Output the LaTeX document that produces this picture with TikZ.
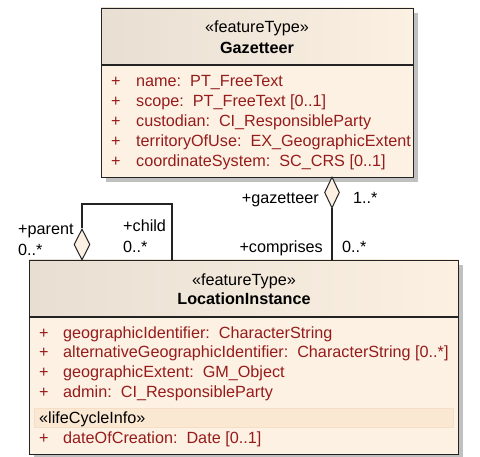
\documentclass[tikz,border=0pt]{standalone}
\usepackage{fontspec}
\setmainfont{Liberation Sans}
\usetikzlibrary{shapes.geometric,calc}
\definecolor{attr}{RGB}{150,28,28}
\definecolor{hdl}{RGB}{232,223,210}
\definecolor{hdr}{RGB}{251,240,226}
\definecolor{bodyc}{RGB}{252,241,227}
\definecolor{shad}{RGB}{192,192,192}
\definecolor{band}{RGB}{250,232,211}
\definecolor{bandline}{RGB}{245,222,197}
\definecolor{edge}{RGB}{35,35,35}
\begin{document}
\begin{tikzpicture}[x=1pt,y=-1pt,
  txt/.style={font=\fontsize{16.2}{18}\selectfont, inner sep=0pt, anchor=base west},
  atxt/.style={txt, text=attr},
  boxline/.style={draw=edge, line width=1.4pt, inner sep=0pt, anchor=north west},
  sepline/.style={draw=edge, line width=1.1pt},
  conn/.style={draw=edge, line width=1.1pt},
  diam/.style={diamond, draw=edge, fill=hdr, line width=1pt, minimum width=15pt, minimum height=31pt, inner sep=0pt}]
\useasboundingbox (0,0) rectangle (480,457);

% ---------- Gazetteer ----------
\fill[shad] (106,13) rectangle (418,182);
\shade[left color=hdl, right color=hdr] (101,8) rectangle (413,65);
\fill[bodyc] (101,65) rectangle (413,177);
\node[boxline, minimum width=312pt, minimum height=169pt] (gaz) at (101,8) {};
\draw[sepline] (gaz.west |- 0,65) -- (gaz.east |- 0,65);
\node[txt, anchor=base] (gazst) at (257,33) {«featureType»};
\node[txt, anchor=base, font=\fontsize{16.2}{18}\selectfont\bfseries] (gazname) at (257,54) {Gazetteer};
\foreach \yy/\tt [count=\i] in {87/{name:\ \ PT\_FreeText},
  107/{scope:\ \ PT\_FreeText [0..1]},
  127/{custodian:\ \ CI\_ResponsibleParty},
  147/{territoryOfUse:\ \ EX\_GeographicExtent},
  167/{coordinateSystem:\ \ SC\_CRS [0..1]}}{
  \node[atxt] (gp\i) at (111,\yy) {+};
  \node[atxt] (ga\i) at (136,\yy) {\tt};
}

% ---------- LocationInstance ----------
\fill[shad] (34,265) rectangle (463,459);
\shade[left color=hdl, right color=hdr] (29,260) rectangle (458,317);
\fill[bodyc] (29,317) rectangle (458,454);
\draw[bandline, fill=band] (34,408) rectangle (453,427);
\node[boxline, minimum width=429pt, minimum height=194pt] (li) at (29,260) {};
\draw[sepline] (li.west |- 0,317) -- (li.east |- 0,317);
\node[txt, anchor=base] (list) at (244,286) {«featureType»};
\node[txt, anchor=base, font=\fontsize{16.2}{18}\selectfont\bfseries] (liname) at (244,305) {LocationInstance};
\foreach \yy/\tt [count=\i] in {339/{geographicIdentifier:\ \ CharacterString},
  358/{alternativeGeographicIdentifier:\ \ CharacterString [0..*]},
  378/{geographicExtent:\ \ GM\_Object},
  398/{admin:\ \ CI\_ResponsibleParty}}{
  \node[atxt] (lp\i) at (39,\yy) {+};
  \node[atxt] (la\i) at (63,\yy) {\tt};
}
\node[txt] (lcinfo) at (39,424) {«lifeCycleInfo»};
\node[atxt] (lp5) at (39,443) {+};
\node[atxt] (la5) at (63,443) {dateOfCreation:\ \ Date [0..1]};

% ---------- Gazetteer -- LocationInstance ----------
\node[diam] (dg) at (332,192.5) {};
\draw[conn] (dg.south) -- (dg.south |- li.north);
\node[txt, anchor=base east] (lgaz) at (319,204) {+gazetteer};
\node[txt] (mgaz) at (353,204) {1..*};
\node[txt, anchor=base east] (lcomp) at (323,253) {+comprises};
\node[txt] (mcomp) at (342,253) {0..*};

% ---------- self association ----------
\node[diam, minimum width=16pt, minimum height=31pt] (ds) at (82,244.5) {};
\coordinate (selfr) at (172,204);
\draw[conn] (ds.north) |- (selfr) -- (selfr |- li.north);
\node[txt] (lpar) at (18,235) {+parent};
\node[txt] (mpar) at (18,256) {0..*};
\node[txt] (lchild) at (123,232) {+child};
\node[txt] (mchild) at (123,253) {0..*};
\end{tikzpicture}
\end{document}
